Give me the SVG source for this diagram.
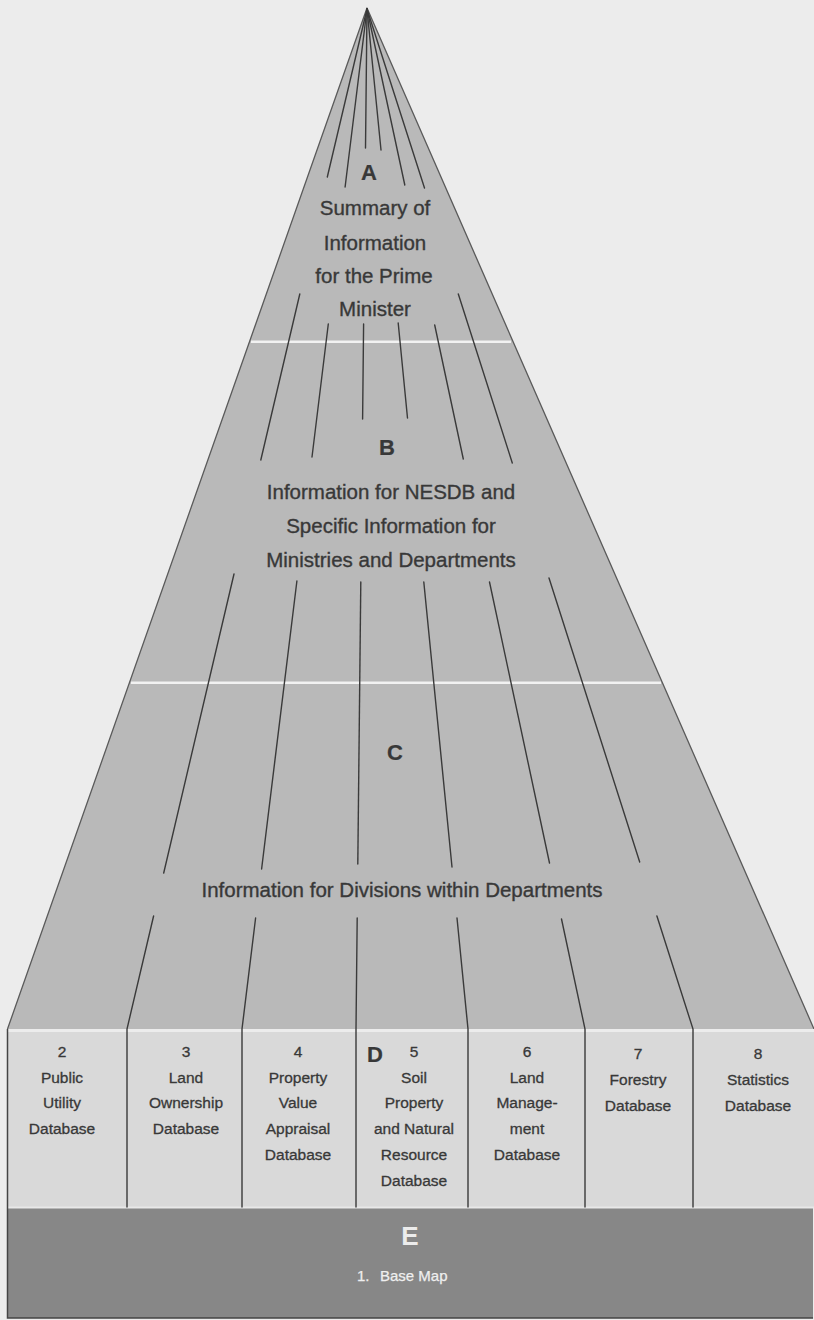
<svg xmlns="http://www.w3.org/2000/svg" width="814" height="1320" viewBox="0 0 814 1320">
<style>
.t{font-family:"Liberation Sans",Arial,sans-serif;fill:#383838;text-anchor:middle;stroke:#383838;stroke-width:0.35}
.body{font-size:20.5px}
.big{font-size:22px;font-weight:bold;stroke-width:0.2}
.cell{font-size:15.5px;stroke-width:0.3}
.ray{stroke:#3a3a3a;stroke-width:1.4;fill:none;stroke-linecap:round}
.sep{stroke:#f2f2f2;stroke-width:2.5}
</style>
<rect width="814" height="1320" fill="#ececec"/>
<g id="pyramid">
<polygon points="367,8 814,1029 7.5,1029" fill="#b9b9b9"/>
<polyline points="7.5,1029 367,8 814,1029" fill="none" stroke="#5a5a5a" stroke-width="1.3" stroke-linejoin="round"/>
<line class="sep" x1="251" y1="341.7" x2="511" y2="341.7"/>
<line class="sep" x1="131" y1="682.7" x2="661" y2="682.7"/>
</g>
<g id="tier-A">
<text class="t big" x="369" y="179.5">A</text>
<text class="t body" x="375" y="215">Summary of</text>
<text class="t body" x="375" y="249.5">Information</text>
<text class="t body" x="374" y="283">for the Prime</text>
<text class="t body" x="375" y="316">Minister</text>
</g>
<g id="tier-B">
<text class="t big" x="387" y="455">B</text>
<text class="t body" x="391" y="498.5">Information for NESDB and</text>
<text class="t body" x="391" y="533">Specific Information for</text>
<text class="t body" x="391" y="566.5">Ministries and Departments</text>
</g>
<g id="tier-C">
<text class="t big" x="395" y="760">C</text>
<text class="t body" x="402" y="897">Information for Divisions within Departments</text>
</g>
<g id="tier-D">
<rect x="7.5" y="1029" width="806.5" height="178" fill="#d9d9d9"/>
<line x1="8" y1="1030.5" x2="814" y2="1030.5" stroke="#ececec" stroke-width="3"/>
<text class="t big" x="367" y="1061.5" style="text-anchor:start">D</text>
<g id="db-2"><text class="t cell" x="62" y="1057">2</text><text class="t cell" x="62" y="1082.5">Public</text><text class="t cell" x="62" y="1108">Utility</text><text class="t cell" x="62" y="1134">Database</text></g>
<g id="db-3"><text class="t cell" x="186" y="1057">3</text><text class="t cell" x="186" y="1082.5">Land</text><text class="t cell" x="186" y="1108">Ownership</text><text class="t cell" x="186" y="1134">Database</text></g>
<g id="db-4"><text class="t cell" x="298" y="1057">4</text><text class="t cell" x="298" y="1082.5">Property</text><text class="t cell" x="298" y="1108">Value</text><text class="t cell" x="298" y="1134">Appraisal</text><text class="t cell" x="298" y="1160">Database</text></g>
<g id="db-5"><text class="t cell" x="414" y="1057">5</text><text class="t cell" x="414" y="1082.5">Soil</text><text class="t cell" x="414" y="1108">Property</text><text class="t cell" x="414" y="1134">and Natural</text><text class="t cell" x="414" y="1160">Resource</text><text class="t cell" x="414" y="1186">Database</text></g>
<g id="db-6"><text class="t cell" x="527" y="1057">6</text><text class="t cell" x="527" y="1082.5">Land</text><text class="t cell" x="527" y="1108">Manage-</text><text class="t cell" x="527" y="1134">ment</text><text class="t cell" x="527" y="1160">Database</text></g>
<g id="db-7"><text class="t cell" x="638" y="1059">7</text><text class="t cell" x="638" y="1085">Forestry</text><text class="t cell" x="638" y="1111">Database</text></g>
<g id="db-8"><text class="t cell" x="758" y="1059">8</text><text class="t cell" x="758" y="1085">Statistics</text><text class="t cell" x="758" y="1111">Database</text></g>
</g>
<g id="tier-E">
<rect x="7.5" y="1207" width="805.5" height="111" fill="#878787"/>
<line x1="8" y1="1207.5" x2="814" y2="1207.5" stroke="#e8e8e8" stroke-width="2"/>
<text x="410" y="1245" style="font-family:'Liberation Sans',Arial,sans-serif;font-size:26px;font-weight:bold;fill:#ececec;text-anchor:middle">E</text>
<text x="357" y="1281" style="font-family:'Liberation Sans',Arial,sans-serif;font-size:15px;fill:#efefef;stroke:#efefef;stroke-width:0.25">1.<tspan x="380">Base Map</tspan></text>
</g>
<g id="frame">
<polyline points="7.5,1029 7.5,1318 813,1318" fill="none" stroke="#444" stroke-width="1.5"/>
</g>
<g id="connectors">
<line class="ray" x1="367" y1="9" x2="327.3" y2="177"/>
<line class="ray" x1="367" y1="9" x2="345.1" y2="187"/>
<line class="ray" x1="367" y1="9" x2="365.5" y2="148"/>
<line class="ray" x1="367" y1="9" x2="381" y2="150"/>
<line class="ray" x1="367" y1="9" x2="404.8" y2="185"/>
<line class="ray" x1="367" y1="9" x2="424.5" y2="188"/>
<line class="ray" x1="299.8" y1="294" x2="260.8" y2="460"/>
<line class="ray" x1="328.3" y1="324" x2="312" y2="457"/>
<line class="ray" x1="363.6" y1="324" x2="362.6" y2="419"/>
<line class="ray" x1="398.2" y1="323" x2="407.5" y2="418"/>
<line class="ray" x1="434.7" y1="325" x2="463.3" y2="459"/>
<line class="ray" x1="458.3" y1="294" x2="512.3" y2="463"/>
<line class="ray" x1="234" y1="574" x2="163.7" y2="873"/>
<line class="ray" x1="296.9" y1="581" x2="261.6" y2="869"/>
<line class="ray" x1="360.8" y1="582" x2="357.8" y2="864"/>
<line class="ray" x1="423.8" y1="582" x2="452" y2="867"/>
<line class="ray" x1="489.5" y1="582" x2="549.5" y2="863"/>
<line class="ray" x1="549" y1="578" x2="639.7" y2="862"/>
<polyline class="ray" points="153.6,916 127,1029 127,1207"/>
<polyline class="ray" points="255.6,918 242,1029 242,1207"/>
<polyline class="ray" points="357.2,918 356,1029 356,1207"/>
<polyline class="ray" points="457,918 468,1029 468,1207"/>
<polyline class="ray" points="561.5,919 585,1029 585,1207"/>
<polyline class="ray" points="656.9,916 693,1029 693,1207"/>
</g>
</svg>
